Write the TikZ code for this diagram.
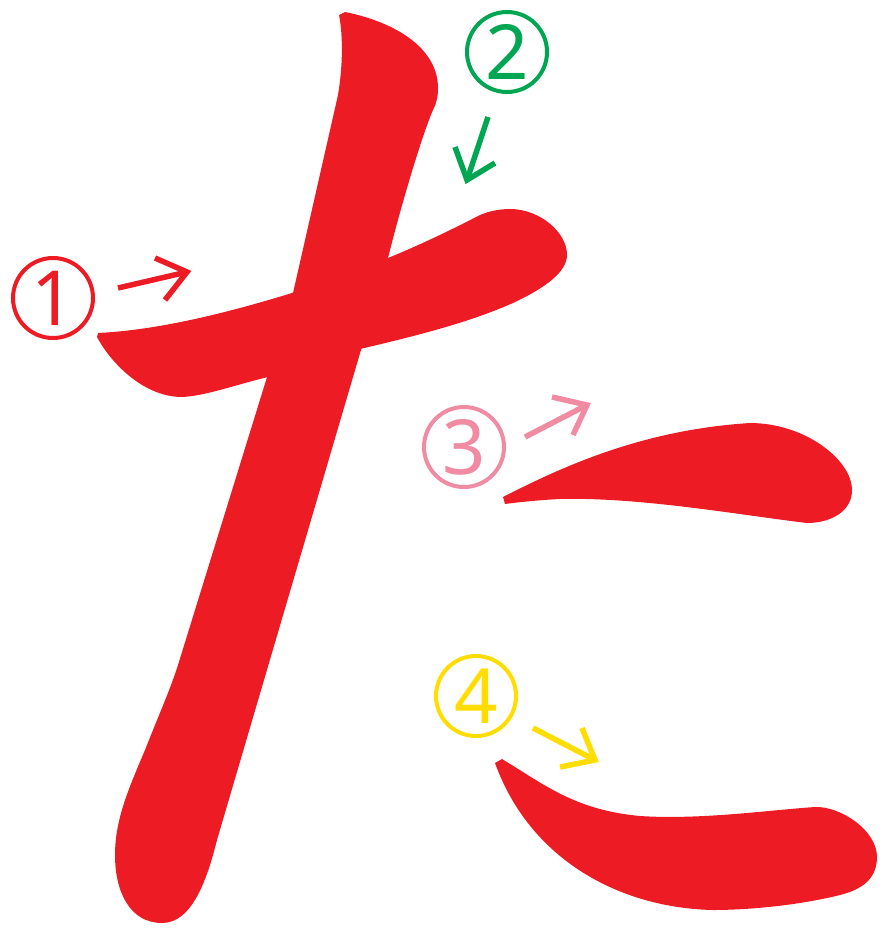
\documentclass[tikz,border=0pt]{standalone}
\usepackage{fontspec}
\newfontfamily\numfont{Noto Sans}
\definecolor{strokered}{RGB}{237,28,36}
\definecolor{numgreen}{RGB}{0,166,81}
\definecolor{numpink}{RGB}{241,139,164}
\definecolor{numyellow}{RGB}{255,221,0}
\begin{document}
\begin{tikzpicture}[x=1pt,y=-1pt,
  kana/.style={fill=strokered},
  ring/.style={line width=4},
  numtxt/.style={inner sep=0pt, font=\numfont\fontsize{76}{76}\selectfont},
  hint/.style={line width=5.5}]
\useasboundingbox (0,0) rectangle (881,931);
% stroke 1 (horizontal)
\fill[kana] (97,337) -- (98,333) .. controls (160,330) and (230,312) .. (292,293)
  -- (388,258) .. controls (420,245) and (455,228) .. (480,215)
  .. controls (492,210) and (502,209) .. (512,209)
  .. controls (540,210) and (567,232) .. (567,255)
  .. controls (567,272) and (545,288) .. (513,303)
  .. controls (470,322) and (420,335) .. (360,349)
  -- (268,377) .. controls (235,385) and (205,396) .. (182,397)
  .. controls (145,397) and (112,365) .. (97,337) -- cycle;
% stroke 2 (diagonal)
\fill[kana] (339,15) -- (345,12) .. controls (395,22) and (438,48) .. (438,88)
  .. controls (438,98) and (436,104) .. (433,110)
  .. controls (425,128) and (405,190) .. (388,258)
  -- (217,840) .. controls (207,880) and (192,923) .. (162,923)
  .. controls (130,923) and (115,892) .. (115,855)
  .. controls (115,820) and (128,790) .. (145,750)
  .. controls (160,712) and (170,690) .. (178,665)
  -- (293,293) -- (338,95) .. controls (343,65) and (343,35) .. (339,15) -- cycle;
% stroke 3
\fill[kana] (505,504) -- (503,497) .. controls (560,468) and (640,430) .. (750,423)
  .. controls (805,423) and (852,460) .. (852,490)
  .. controls (852,512) and (830,523) .. (807,523)
  .. controls (740,515) and (640,497) .. (560,499)
  .. controls (540,500) and (520,502) .. (505,504) -- cycle;
% stroke 4
\fill[kana] (495,763) -- (502,759) .. controls (545,785) and (575,810) .. (640,816)
  .. controls (700,820) and (770,810) .. (815,807)
  .. controls (840,806) and (877,830) .. (877,857)
  .. controls (877,880) and (860,890) .. (840,895)
  .. controls (800,905) and (750,910) .. (713,910)
  .. controls (620,908) and (530,860) .. (495,763) -- cycle;
% number 1
\coordinate (c1) at (53,298);
\draw[ring, strokered] (c1) circle[radius=40];
\node[numtxt, text=strokered] (n1) at (c1) {1};
\coordinate (a1s) at (118,288); \coordinate (a1t) at (187,272);
\coordinate (a1u) at (155,258); \coordinate (a1d) at (165,300);
\draw[hint, strokered] (a1s) -- (a1t);
\draw[hint, strokered] (a1u) -- (a1t) -- (a1d);
% number 2
\coordinate (c2) at (507,52);
\draw[ring, numgreen] (c2) circle[radius=40];
\node[numtxt, text=numgreen] (n2) at (c2) {2};
\coordinate (a2s) at (488,117); \coordinate (a2t) at (467,180);
\coordinate (a2u) at (455,147); \coordinate (a2d) at (495,163);
\draw[hint, numgreen] (a2s) -- (a2t);
\draw[hint, numgreen] (a2u) -- (a2t) -- (a2d);
% number 3
\coordinate (c3) at (464,447);
\draw[ring, numpink] (c3) circle[radius=40];
\node[numtxt, text=numpink] (n3) at (c3) {3};
\coordinate (a3s) at (525,437); \coordinate (a3t) at (587,405);
\coordinate (a3u) at (552,397); \coordinate (a3d) at (573,435);
\draw[hint, numpink] (a3s) -- (a3t);
\draw[hint, numpink] (a3u) -- (a3t) -- (a3d);
% number 4
\coordinate (c4) at (476,696);
\draw[ring, numyellow] (c4) circle[radius=40];
\node[numtxt, text=numyellow] (n4) at (c4) {4};
\coordinate (a4s) at (533,728); \coordinate (a4t) at (595,760);
\coordinate (a4u) at (582,728); \coordinate (a4d) at (560,767);
\draw[hint, numyellow] (a4s) -- (a4t);
\draw[hint, numyellow] (a4u) -- (a4t) -- (a4d);
\end{tikzpicture}
\end{document}
